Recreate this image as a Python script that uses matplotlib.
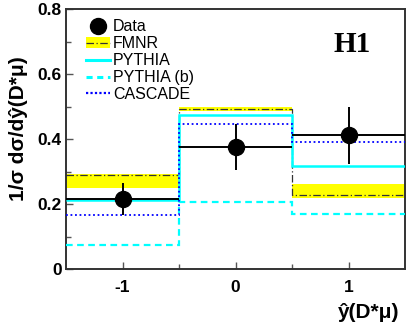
import matplotlib
matplotlib.use("Agg")
import matplotlib.pyplot as plt
from matplotlib.patches import Patch
from matplotlib.lines import Line2D

plt.rcParams['font.family'] = ['Liberation Sans', 'DejaVu Sans']

edges = [-1.5, -0.5, 0.5, 1.5]
x = [-1, 0, 1]
data = [0.215, 0.375, 0.412]
data_err = [0.05, 0.07, 0.088]
fmnr = [0.288, 0.493, 0.228]
fmnr_lo = [0.249, 0.486, 0.218]
fmnr_hi = [0.292, 0.498, 0.262]
pythia = [0.212, 0.474, 0.317]
pythia_b = [0.074, 0.206, 0.169]
cascade = [0.166, 0.446, 0.391]

fig = plt.figure(figsize=(4.12, 3.22), dpi=100)
ax = fig.add_axes([0.160, 0.1646, 0.824, 0.8074])

ax.bar(x, [h - l for h, l in zip(fmnr_hi, fmnr_lo)], bottom=fmnr_lo, width=1.0,
       color='#ffff00', linewidth=0, zorder=1)
ax.stairs(fmnr, edges, baseline=None, color='#333333', linestyle=(0, (6, 2, 1, 2)), lw=0.9, zorder=2)
ax.stairs(pythia, edges, baseline=None, color='#00ffff', lw=1.8, zorder=3)
ax.stairs(pythia_b, edges, baseline=None, color='#00ffff', linestyle=(0, (3, 2)), lw=1.6, zorder=3)
ax.stairs(cascade, edges, baseline=None, color='#0000ff', linestyle=(0, (1, 1.5)), lw=1.3, zorder=4)
ax.errorbar(x, data, yerr=data_err, xerr=0.5, fmt='o', color='black', ms=11.5,
            elinewidth=1.4, capsize=0, zorder=5)

ax.set_xlim(-1.5, 1.5)
ax.set_ylim(0, 0.8)
ax.set_xticks([-1, 0, 1])
ax.set_xticklabels(['-1', '0', '1'])
ax.set_xticks([-0.5, 0.5], minor=True)
ax.set_yticks([0, 0.2, 0.4, 0.6, 0.8])
ax.set_yticklabels(['0', '0.2', '0.4', '0.6', '0.8'])
ax.set_yticks([0.1, 0.3, 0.5, 0.7], minor=True)
ax.tick_params(which='both', direction='in', colors='#555555', labelcolor='black',
               labelsize=12.5, width=1.0)
ax.tick_params(which='major', length=5)
ax.tick_params(which='minor', length=3.5)
ax.tick_params(axis='x', which='major', pad=8)
ax.tick_params(axis='y', which='major', pad=3)
for lab in ax.get_xticklabels() + ax.get_yticklabels():
    lab.set_fontweight('bold')
for s in ax.spines.values():
    s.set_color('#333333')
    s.set_linewidth(1.4)

ax.text(-0.141, 0.54, '1/σ dσ/dŷ(D*μ)', transform=ax.transAxes, rotation=90,
        fontsize=15, fontweight='bold', ha='center', va='center')
ax.text(0.981, -0.188, 'ŷ(D*μ)', transform=ax.transAxes,
        fontsize=15, fontweight='bold', ha='right', va='baseline')

ax.text(0.842, 0.862, 'H1', transform=ax.transAxes, fontsize=21, fontweight='bold',
        family='Liberation Serif', ha='center', va='center')

handles = [
    Line2D([], [], marker='o', color='black', ms=11.5, linestyle='none'),
    (Patch(facecolor='#ffff00', edgecolor='none'),
     Line2D([], [], color='#333333', linestyle=(0, (6, 2, 1, 2)), lw=0.9)),
    Line2D([], [], color='#00ffff', lw=2.2),
    Line2D([], [], color='#00ffff', lw=2.2, linestyle=(0, (2, 1.5))),
    Line2D([], [], color='#0000ff', lw=1.6, linestyle=(0, (1, 1))),
]
labels = ['Data', 'FMNR', 'PYTHIA', 'PYTHIA (b)', 'CASCADE']
ax.legend(handles, labels, loc='upper left', bbox_to_anchor=(0.059, 0.96), frameon=False,
          fontsize=11.5, handlelength=1.5, handletextpad=0.2, labelspacing=0.12,
          borderaxespad=0, borderpad=0)

fig.savefig('out.png', dpi=100)
